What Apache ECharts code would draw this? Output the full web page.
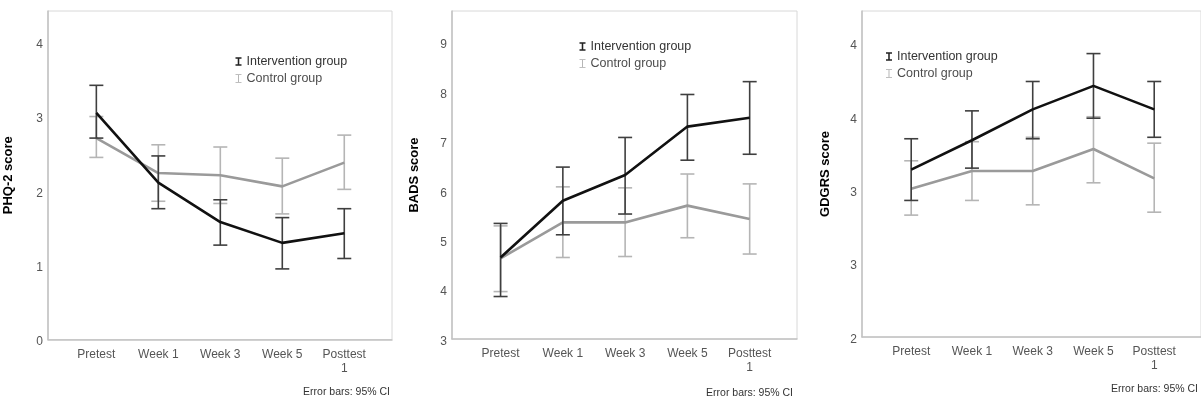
<!DOCTYPE html>
<html>
<head>
<meta charset="utf-8">
<script src="https://cdn.jsdelivr.net/npm/echarts@6/dist/echarts.min.js"></script>
<style>
html,body{margin:0;padding:0;background:#fff;}
#chart{width:1201px;height:401px;}
</style>
</head>
<body>
<div id="chart"></div>
<script>
// ---------- data ----------
const categories = ['Pretest', 'Week 1', 'Week 3', 'Week 5', 'Posttest\n1'];
const seriesNames = ['Intervention group', 'Control group'];

// PHQ-2
const phqIntMean = [3.05, 2.11, 1.58, 1.30, 1.43];
const phqIntLow  = [2.71, 1.76, 1.27, 0.95, 1.09];
const phqIntHigh = [3.42, 2.47, 1.88, 1.64, 1.76];
const phqCtrlMean = [2.71, 2.24, 2.21, 2.06, 2.38];
const phqCtrlLow  = [2.45, 1.86, 1.83, 1.69, 2.02];
const phqCtrlHigh = [3.00, 2.62, 2.59, 2.44, 2.75];
const phqTickValues = [0, 1, 2, 3, 4];
const phqTickLabels = ['0', '1', '2', '3', '4'];

// BADS
const badsIntMean = [4.65, 5.80, 6.32, 7.30, 7.48];
const badsIntLow  = [3.86, 5.11, 5.53, 6.62, 6.74];
const badsIntHigh = [5.34, 6.48, 7.08, 7.95, 8.21];
const badsCtrlMean = [4.63, 5.36, 5.36, 5.70, 5.43];
const badsCtrlLow  = [3.96, 4.65, 4.67, 5.05, 4.72];
const badsCtrlHigh = [5.29, 6.08, 6.06, 6.34, 6.14];
const badsTickValues = [3, 4, 5, 6, 7, 8, 9];
const badsTickLabels = ['3', '4', '5', '6', '7', '8', '9'];

// GDGRS
const gdgIntMean = [3.14, 3.34, 3.55, 3.71, 3.55];
const gdgIntLow  = [2.93, 3.15, 3.35, 3.49, 3.36];
const gdgIntHigh = [3.35, 3.54, 3.74, 3.93, 3.74];
const gdgCtrlMean = [3.01, 3.13, 3.13, 3.28, 3.08];
const gdgCtrlLow  = [2.83, 2.93, 2.90, 3.05, 2.85];
const gdgCtrlHigh = [3.20, 3.33, 3.36, 3.50, 3.32];
const gdgTickValues = [2, 2.5, 3, 3.5, 4];
const gdgTickLabels = ['2', '3', '3', '4', '4'];

const yNames = ['PHQ-2 score', 'BADS score', 'GDGRS score'];
const errorNote = 'Error bars: 95% CI';

// ---------- styling / layout ----------
const FONT = '"Liberation Sans", Arial, sans-serif';
const INT_LINE = '#111111', CTRL_LINE = '#9a9a9a';
const INT_BAR = '#3f3f3f', CTRL_BAR = '#b5b5b5';

const panels = [
  {left: 48, width: 344, top: 11, bottom: 401 - 339.5, xmin: -0.78, xmax: 4.77, ymin: 0, ymax: 4.42,
   ticks: phqTickValues, labels: phqTickLabels, nameGap: 33,
   intM: phqIntMean, intL: phqIntLow, intH: phqIntHigh, ctM: phqCtrlMean, ctL: phqCtrlLow, ctH: phqCtrlHigh,
   legendLeft: 235.5, legendTop: 55, noteRight: 390, noteY: 393},
  {left: 452, width: 345, top: 11, bottom: 401 - 339, xmin: -0.78, xmax: 4.76, ymin: 3, ymax: 9.64,
   ticks: badsTickValues, labels: badsTickLabels, nameGap: 31,
   intM: badsIntMean, intL: badsIntLow, intH: badsIntHigh, ctM: badsCtrlMean, ctL: badsCtrlLow, ctH: badsCtrlHigh,
   legendLeft: 579.5, legendTop: 40, noteRight: 793, noteY: 394},
  {left: 862, width: 341, top: 11, bottom: 401 - 337, xmin: -0.81, xmax: 4.77, ymin: 2, ymax: 4.22,
   ticks: gdgTickValues, labels: gdgTickLabels, nameGap: 30,
   intM: gdgIntMean, intL: gdgIntLow, intH: gdgIntHigh, ctM: gdgCtrlMean, ctL: gdgCtrlLow, ctH: gdgCtrlHigh,
   legendLeft: 886, legendTop: 50, noteRight: 1198, noteY: 390}
];

function renderErrorBar(params, api) {
  const x = api.value(0), lo = api.value(1), hi = api.value(2);
  const pLo = api.coord([x, lo]);
  const pHi = api.coord([x, hi]);
  const hw = 7;
  const style = {stroke: api.visual('color'), lineWidth: 1.6};
  return {
    type: 'group',
    children: [
      {type: 'line', shape: {x1: pLo[0], y1: pLo[1], x2: pHi[0], y2: pHi[1]}, style: style},
      {type: 'line', shape: {x1: pHi[0] - hw, y1: pHi[1], x2: pHi[0] + hw, y2: pHi[1]}, style: style},
      {type: 'line', shape: {x1: pLo[0] - hw, y1: pLo[1], x2: pLo[0] + hw, y2: pLo[1]}, style: style}
    ]
  };
}

const INT_ICON = 'path://M0,0H7V1.7H4.4V8.3H7V10H0V8.3H2.6V1.7H0Z';
const CTRL_ICON = 'path://M0,0H7V1H4V9H7V10H0V9H3V1H0Z';

const grid = [], xAxis = [], yAxis = [], series = [], legend = [], graphic = [];

panels.forEach((p, k) => {
  grid.push({left: p.left, width: p.width, top: p.top, bottom: p.bottom,
             show: true, borderColor: '#d8d8d8', borderWidth: 1, backgroundColor: '#fff'});
  xAxis.push({
    type: 'value', gridIndex: k, min: p.xmin, max: p.xmax,
    axisLine: {show: true, onZero: false, lineStyle: {color: '#c2c2c2', width: 1.5}},
    axisTick: {show: false},
    splitLine: {show: false},
    axisLabel: {
      customValues: categories.map((c, i) => i),
      formatter: v => categories[Math.round(v)] || '',
      color: '#555', fontSize: 12, fontFamily: FONT, lineHeight: 14, margin: 8
    }
  });
  yAxis.push({
    type: 'value', gridIndex: k, min: p.ymin, max: p.ymax,
    name: yNames[k], nameLocation: 'middle', nameGap: p.nameGap,
    nameTextStyle: {color: '#000', fontWeight: 'bold', fontSize: 13, fontFamily: FONT},
    axisLine: {show: true, onZero: false, lineStyle: {color: '#c2c2c2', width: 1.5}},
    axisTick: {show: false},
    splitLine: {show: false},
    axisLabel: {
      customValues: p.ticks,
      formatter: v => { const i = p.ticks.indexOf(v); return i >= 0 ? '{t|' + p.labels[i] + '}' : ''; },
      color: '#555', fontSize: 12, fontFamily: FONT, margin: 5,
      rich: {t: {color: '#555', fontSize: 12, fontFamily: FONT, padding: [5, 0, 0, 0]}}
    }
  });

  const ctBars = p.ctM.map((m, i) => [i, p.ctL[i], p.ctH[i]]);
  const intBars = p.intM.map((m, i) => [i, p.intL[i], p.intH[i]]);

  series.push({
    name: seriesNames[1], type: 'custom', xAxisIndex: k, yAxisIndex: k,
    renderItem: renderErrorBar, itemStyle: {color: CTRL_BAR}, data: ctBars, z: 2, silent: true
  });
  series.push({
    name: seriesNames[1], type: 'line', xAxisIndex: k, yAxisIndex: k,
    data: p.ctM.map((m, i) => [i, m]), symbol: 'none', z: 3,
    lineStyle: {color: CTRL_LINE, width: 2.6}, itemStyle: {color: CTRL_LINE}, silent: true
  });
  series.push({
    name: seriesNames[0], type: 'custom', xAxisIndex: k, yAxisIndex: k,
    renderItem: renderErrorBar, itemStyle: {color: INT_BAR}, data: intBars, z: 4, silent: true
  });
  series.push({
    name: seriesNames[0], type: 'line', xAxisIndex: k, yAxisIndex: k,
    data: p.intM.map((m, i) => [i, m]), symbol: 'none', z: 5,
    lineStyle: {color: INT_LINE, width: 2.6}, itemStyle: {color: INT_LINE}, silent: true
  });

  legend.push({
    left: p.legendLeft, top: p.legendTop, orient: 'vertical', padding: 0,
    itemWidth: 6, itemHeight: 10, itemGap: 4, itemTextGap: 5, selectedMode: false,
    textStyle: {fontSize: 12.5, fontFamily: FONT, color: '#333'},
    data: [
      {name: seriesNames[0], icon: INT_ICON, itemStyle: {color: '#222'}, textStyle: {color: '#333'}},
      {name: seriesNames[1], icon: CTRL_ICON, itemStyle: {color: '#aaa'}, textStyle: {color: '#4d4d4d'}}
    ]
  });

  graphic.push({
    type: 'text', right: 1201 - p.noteRight, top: p.noteY - 6,
    style: {text: errorNote, font: '10.5px ' + FONT, fill: '#333'}
  });
});

const chart = echarts.init(document.getElementById('chart'), null, {renderer: 'canvas'});
chart.setOption({
  animation: false,
  backgroundColor: '#fff',
  grid: grid, xAxis: xAxis, yAxis: yAxis, series: series, legend: legend, graphic: graphic
});
</script>
</body>
</html>
